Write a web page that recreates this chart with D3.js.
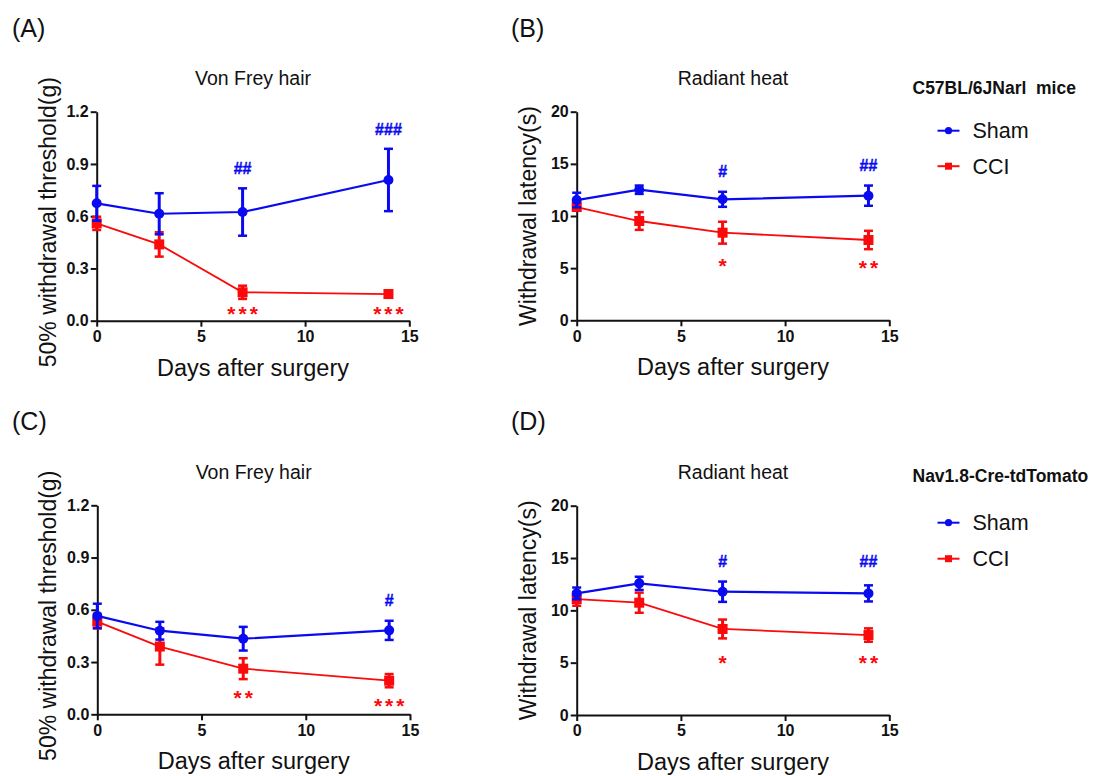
<!DOCTYPE html>
<html>
<head>
<meta charset="utf-8">
<script src="https://cdn.jsdelivr.net/npm/d3@7/dist/d3.min.js"></script>
<style>
  html, body { margin: 0; padding: 0; background: #ffffff; }
  svg { display: block; font-family: "Liberation Sans", Arial, sans-serif; }
</style>
</head>
<body>
<svg id="fig" width="1099" height="776"></svg>
<script>
// ---- data -------------------------------------------------------------
const days = [0, 3, 7, 14];
const xTicks = [0, 5, 10, 15];
const vfTicks = [0, 0.3, 0.6, 0.9, 1.2];
const rhTicks = [0, 5, 10, 15, 20];

const panelLetters = ["(A)", "(B)", "(C)", "(D)"];
const panelTitles = ["Von Frey hair", "Radiant heat", "Von Frey hair", "Radiant heat"];
const yAxisLabels = ["50% withdrawal threshold(g)", "Withdrawal latency(s)",
                     "50% withdrawal threshold(g)", "Withdrawal latency(s)"];
const xAxisLabel = "Days after surgery";
const groupNames = ["Sham", "CCI"];
const strainNames = ["C57BL/6JNarl  mice", "Nav1.8-Cre-tdTomato"];

// C57BL/6JNarl mice – von Frey (g)
const shamA = [0.674, 0.614, 0.624, 0.808];
const shamAErr = [0.100, 0.118, 0.136, 0.179];
const cciA = [0.559, 0.438, 0.163, 0.153];
const cciAErr = [0.038, 0.070, 0.038, 0.020];
// C57BL/6JNarl mice – radiant heat (s)
const shamB = [11.53, 12.52, 11.60, 11.95];
const shamBErr = [0.70, 0.40, 0.72, 0.97];
const cciB = [10.86, 9.52, 8.40, 7.70];
const cciBErr = [0.35, 0.85, 1.05, 0.88];
// Nav1.8-Cre-tdTomato – von Frey (g)
const shamC = [0.565, 0.480, 0.434, 0.482];
const shamCErr = [0.070, 0.051, 0.068, 0.055];
const cciC = [0.532, 0.389, 0.262, 0.193];
const cciCErr = [0.039, 0.104, 0.060, 0.038];
// Nav1.8-Cre-tdTomato – radiant heat (s)
const shamD = [11.62, 12.58, 11.78, 11.62];
const shamDErr = [0.56, 0.63, 0.97, 0.77];
const cciD = [11.08, 10.73, 8.22, 7.64];
const cciDErr = [0.64, 0.96, 0.90, 0.64];

// significance marks: [day, text, level (data units)]
const shamMarksA = [[7, "##", 0.875], [14, "###", 1.099]];
const cciMarksA = [[7, "***", 0.061], [14, "***", 0.061]];
const shamMarksB = [[7, "#", 14.3], [14, "##", 14.86]];
const cciMarksB = [[7, "*", 5.62], [14, "**", 5.4]];
const shamMarksC = [[14, "#", 0.653]];
const cciMarksC = [[7, "**", 0.117], [14, "***", 0.073]];
const shamMarksD = [[7, "#", 14.65], [14, "##", 14.65]];
const cciMarksD = [[7, "*", 5.32], [14, "**", 5.32]];

// ---- styling ----------------------------------------------------------
const BLUE = "#0a0af0";
const RED = "#fa0a0a";

const svg = d3.select("#fig");

const panels = [
  { left: 96.7, top: 111.7, w: 312.6, h: 209, yDomain: [0, 1.2], yTicks: vfTicks, fmt: d3.format(".1f"),
    sham: shamA, shamErr: shamAErr, cci: cciA, cciErr: cciAErr, shamMarks: shamMarksA, cciMarks: cciMarksA,
    letterX: 12, letterY: 37 },
  { left: 576.7, top: 111.7, w: 312.6, h: 208.6, yDomain: [0, 20], yTicks: rhTicks, fmt: d3.format("d"),
    sham: shamB, shamErr: shamBErr, cci: cciB, cciErr: cciBErr, shamMarks: shamMarksB, cciMarks: cciMarksB,
    letterX: 511, letterY: 37 },
  { left: 97.3, top: 505.3, w: 312.7, h: 209, yDomain: [0, 1.2], yTicks: vfTicks, fmt: d3.format(".1f"),
    sham: shamC, shamErr: shamCErr, cci: cciC, cciErr: cciCErr, shamMarks: shamMarksC, cciMarks: cciMarksC,
    letterX: 12, letterY: 430 },
  { left: 576.7, top: 505.7, w: 312.6, h: 209.3, yDomain: [0, 20], yTicks: rhTicks, fmt: d3.format("d"),
    sham: shamD, shamErr: shamDErr, cci: cciD, cciErr: cciDErr, shamMarks: shamMarksD, cciMarks: cciMarksD,
    letterX: 511, letterY: 430 }
];

panels.forEach((p, i) => {
  const x = d3.scaleLinear().domain([0, 15]).range([p.left, p.left + p.w]);
  const y = d3.scaleLinear().domain(p.yDomain).range([p.top + p.h, p.top]);

  // panel letter
  svg.append("text")
    .attr("x", p.letterX).attr("y", p.letterY)
    .attr("font-size", 25).attr("fill", "#111")
    .text(panelLetters[i]);

  // title
  svg.append("text")
    .attr("x", p.left + p.w / 2).attr("y", p.top - 26.5)
    .attr("text-anchor", "middle").attr("font-size", 19.5).attr("fill", "#111")
    .text(panelTitles[i]);

  // axes
  const yAxis = d3.axisLeft(y).tickValues(p.yTicks).tickFormat(p.fmt)
    .tickSize(6).tickSizeOuter(0).tickPadding(2);
  const gy = svg.append("g").attr("transform", `translate(${p.left},0)`).call(yAxis);

  const xAxis = d3.axisBottom(x).tickValues(xTicks).tickFormat(d3.format("d"))
    .tickSize(6).tickSizeOuter(0).tickPadding(4);
  const gx = svg.append("g").attr("transform", `translate(0,${p.top + p.h})`).call(xAxis);

  [gx, gy].forEach(g => {
    g.select(".domain").attr("stroke", "#111").attr("stroke-width", 2);
    g.selectAll(".tick line").attr("stroke", "#111").attr("stroke-width", 2);
    g.selectAll(".tick text").attr("fill", "#111").attr("font-size", 16)
      .attr("font-weight", "bold").attr("font-family", "Liberation Sans, Arial, sans-serif");
  });

  // axis titles
  svg.append("text")
    .attr("x", p.left + p.w / 2).attr("y", p.top + p.h + 55)
    .attr("text-anchor", "middle").attr("font-size", 23.5).attr("fill", "#111")
    .text(xAxisLabel);
  svg.append("text")
    .attr("transform", `translate(${p.left - 41},${p.top + p.h / 2 + (i % 2 === 0 ? 6 : 0)}) rotate(-90)`)
    .attr("text-anchor", "middle").attr("font-size", 23).attr("fill", "#111")
    .text(yAxisLabels[i]);

  // series: CCI beneath, Sham on top
  const series = [
    { vals: p.cci, err: p.cciErr, color: RED, shape: "square", lw: 1.8, marks: p.cciMarks, star: true },
    { vals: p.sham, err: p.shamErr, color: BLUE, shape: "circle", lw: 2.2, marks: p.shamMarks, star: false }
  ];

  series.forEach(s => {
    const pts = days.map((d, k) => ({ d, v: s.vals[k], e: s.err[k] }));
    const g = svg.append("g");

    g.append("path")
      .datum(pts)
      .attr("fill", "none").attr("stroke", s.color).attr("stroke-width", s.lw)
      .attr("d", d3.line().x(q => x(q.d)).y(q => y(q.v)));

    // error bars
    const eb = g.selectAll(".eb").data(pts).enter().append("g");
    eb.append("line")
      .attr("x1", q => x(q.d)).attr("x2", q => x(q.d))
      .attr("y1", q => y(q.v - q.e)).attr("y2", q => y(q.v + q.e))
      .attr("stroke", s.color).attr("stroke-width", 3);
    [-1, 1].forEach(sign => {
      eb.append("line")
        .attr("x1", q => x(q.d) - 4.5).attr("x2", q => x(q.d) + 4.5)
        .attr("y1", q => y(q.v + sign * q.e)).attr("y2", q => y(q.v + sign * q.e))
        .attr("stroke", s.color).attr("stroke-width", 2.5);
    });

    // markers
    if (s.shape === "circle") {
      g.selectAll(".mk").data(pts).enter().append("circle")
        .attr("cx", q => x(q.d)).attr("cy", q => y(q.v)).attr("r", 5)
        .attr("fill", s.color);
    } else {
      g.selectAll(".mk").data(pts).enter().append("rect")
        .attr("x", q => x(q.d) - 5).attr("y", q => y(q.v) - 5)
        .attr("width", 10).attr("height", 10)
        .attr("fill", s.color);
    }

    // significance marks
    s.marks.forEach(([d, txt, lvl]) => {
      svg.append("text")
        .attr("x", x(d) + (s.star ? 1.5 : 0))
        .attr("y", y(lvl) + (s.star ? 11 : 5.8))
        .attr("text-anchor", "middle")
        .attr("font-size", s.star ? 21 : 16)
        .attr("font-weight", "bold")
        .attr("letter-spacing", s.star ? 3 : 0)
        .attr("fill", s.color)
        .attr("stroke", s.star ? "none" : s.color)
        .attr("stroke-width", s.star ? 0 : 0.4)
        .text(txt);
    });
  });
});

// ---- legends ------------------------------------------------------------
const legends = [
  { titleY: 94, rows: [130.7, 166.2] },
  { titleY: 482, rows: [522.7, 558.7] }
];
legends.forEach((L, i) => {
  svg.append("text")
    .attr("x", 912.5).attr("y", L.titleY)
    .attr("font-size", 17.5).attr("font-weight", "bold").attr("fill", "#111")
    .style("white-space", "pre")
    .text(strainNames[i]);
  groupNames.forEach((name, k) => {
    const cy = L.rows[k];
    const col = k === 0 ? BLUE : RED;
    svg.append("line")
      .attr("x1", 937.5).attr("x2", 959.5).attr("y1", cy).attr("y2", cy)
      .attr("stroke", col).attr("stroke-width", 2);
    if (k === 0) {
      svg.append("circle").attr("cx", 948.5).attr("cy", cy).attr("r", 3.6).attr("fill", col);
    } else {
      svg.append("rect").attr("x", 945).attr("y", cy - 3.5).attr("width", 7).attr("height", 7).attr("fill", col);
    }
    svg.append("text")
      .attr("x", 972.5).attr("y", cy + 7.5)
      .attr("font-size", 21.5).attr("fill", "#111")
      .text(name);
  });
});
</script>
</body>
</html>
